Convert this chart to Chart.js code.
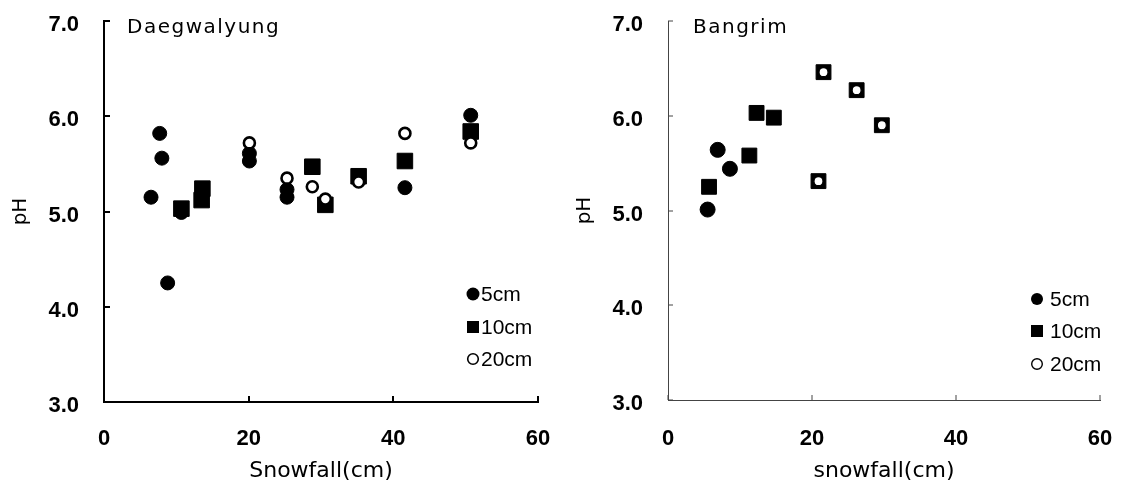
<!DOCTYPE html>
<html>
<head>
<meta charset="utf-8">
<script src="https://cdn.jsdelivr.net/npm/chart.js@4.4.1/dist/chart.umd.min.js"></script>
<style>
	body { margin: 0; background: #fff; }
	.painel { position: absolute; top: 0; height: 489px; }
	#painelDaegwalyung { left: 0; width: 560px; }
	#painelBangrim { left: 560px; width: 561px; }
</style>
</head>
<body>
<div class="painel" id="painelDaegwalyung"><canvas id="graficoDaegwalyung"></canvas></div>
<div class="painel" id="painelBangrim"><canvas id="graficoBangrim"></canvas></div>
<script>
var legendas = ['5cm', '10cm', '20cm'];
var ticksX = [0, 20, 40, 60];
var ticksY = [3, 4, 5, 6, 7];

// Daegwalyung - x = snowfall (cm), y = pH
var daeX5 = [6.5, 7.7, 8.0, 8.8, 10.7, 20.1, 20.1, 25.3, 25.3, 41.6, 50.7];
var daeY5 = [5.15, 5.82, 5.56, 4.25, 4.99, 5.53, 5.61, 5.15, 5.23, 5.25, 6.01];
var daeX10 = [10.7, 13.6, 13.5, 28.8, 30.6, 35.2, 41.6, 50.7];
var daeY10 = [5.03, 5.24, 5.12, 5.47, 5.07, 5.37, 5.53, 5.84];
var daeX20 = [20.1, 25.3, 28.8, 30.6, 35.2, 41.6, 50.7];
var daeY20 = [5.72, 5.35, 5.26, 5.13, 5.31, 5.82, 5.72];

// Bangrim
var banX5 = [5.5, 6.9, 8.6];
var banY5 = [5.01, 5.64, 5.44];
var banX10 = [5.7, 11.3, 12.3, 14.7, 20.9, 21.6, 26.2, 29.7];
var banY10 = [5.25, 5.58, 6.03, 5.98, 5.31, 6.46, 6.27, 5.90];
var banX20 = [20.9, 21.6, 26.2, 29.7];
var banY20 = [5.31, 6.46, 6.27, 5.90];

var FONTE_NUM = 'Liberation Sans, Arial, sans-serif';
var FONTE_TXT = 'DejaVu Sans, sans-serif';

function juntaPontos(xs, ys) {
	return xs.map(function(x, i) { return { x: x, y: ys[i] }; });
}

var Neve = Neve || {};

Neve.plugins = (function() {

	function desenhaMarca(ctx, estilo, cor, marca, x, y) {
		ctx.beginPath();
		if (estilo === 'rect') {
			ctx.rect(x - marca.raio, y - marca.raio, marca.raio * 2, marca.raio * 2);
		} else {
			ctx.arc(x, y, marca.raio, 0, Math.PI * 2);
		}
		ctx.fillStyle = cor;
		ctx.fill();
		if (marca.borda) {
			ctx.lineWidth = marca.borda;
			ctx.strokeStyle = '#000';
			ctx.stroke();
		}
	}

	var rotulo = {
		id: 'rotulo',
		afterDraw: function(chart, args, opts) {
			var ctx = chart.ctx, area = chart.chartArea;
			ctx.save();
			ctx.letterSpacing = opts.espaco;
			ctx.font = opts.fonte;
			ctx.fillStyle = '#000';
			ctx.textBaseline = 'alphabetic';
			ctx.fillText(opts.texto, area.left + opts.dx, area.top + opts.dy);
			ctx.restore();
		}
	};

	var legendaInterna = {
		id: 'legendaInterna',
		afterDatasetsDraw: function(chart, args, opts) {
			var ctx = chart.ctx, area = chart.chartArea;
			ctx.save();
			ctx.font = opts.fonte;
			ctx.textBaseline = 'middle';
			chart.data.datasets.forEach(function(ds, i) {
				var y = area.bottom + opts.linhasY[i];
				desenhaMarca(ctx, ds.pointStyle, ds.pointBackgroundColor, opts.marcas[i], area.right + opts.marcaX, y);
				ctx.fillStyle = '#000';
				ctx.fillText(ds.label, area.right + opts.textoX, y + 1);
			});
			ctx.restore();
		}
	};

	// tracinhos dos ticks voltados para dentro da area do grafico
	var marcasInternas = {
		id: 'marcasInternas',
		afterDraw: function(chart, args, opts) {
			var ctx = chart.ctx, area = chart.chartArea;
			var sx = chart.scales.x, sy = chart.scales.y;
			ctx.save();
			ctx.strokeStyle = opts.cor;
			ctx.lineWidth = opts.largura;
			ctx.beginPath();
			sy.ticks.forEach(function(t) {
				var py = Math.round(sy.getPixelForValue(t.value));
				ctx.moveTo(area.left, py);
				ctx.lineTo(area.left + opts.tamanho, py);
			});
			sx.ticks.forEach(function(t) {
				var px = Math.round(sx.getPixelForValue(t.value));
				ctx.moveTo(px, area.bottom);
				ctx.lineTo(px, area.bottom - opts.tamanho);
			});
			ctx.stroke();
			ctx.restore();
		}
	};

	return [rotulo, legendaInterna, marcasInternas];
}());

Neve.GraficoNeve = (function() {

	function GraficoNeve(id, cfg) {
		this.ctx = document.getElementById(id).getContext('2d');
		this.cfg = cfg;
	}

	GraficoNeve.prototype.iniciar = function() {
		var cfg = this.cfg;
		new Chart(this.ctx, {
			type: 'scatter',
			data: {
				datasets: [{
					label: legendas[0],
					data: juntaPontos(cfg.x5, cfg.y5),
					pointStyle: 'circle',
					pointRadius: cfg.raio5,
					pointBackgroundColor: '#000',
					pointBorderColor: '#000',
					pointBorderWidth: 1,
					order: 3,
					clip: false
				}, {
					label: legendas[1],
					data: juntaPontos(cfg.x10, cfg.y10),
					pointStyle: 'rect',
					pointRadius: cfg.raio10,
					pointBackgroundColor: '#000',
					pointBorderColor: '#000',
					pointBorderWidth: 1,
					order: 2,
					clip: false
				}, {
					label: legendas[2],
					data: juntaPontos(cfg.x20, cfg.y20),
					pointStyle: 'circle',
					pointRadius: cfg.raio20,
					pointBackgroundColor: '#fff',
					pointBorderColor: '#000',
					pointBorderWidth: cfg.borda20,
					order: 1,
					clip: false
				}]
			},
			options: {
				responsive: true,
				maintainAspectRatio: false,
				animation: false,
				events: [],
				layout: { padding: { top: 21, right: cfg.padDireita, bottom: 0, left: 0 } },
				scales: {
					x: {
						type: 'linear',
						min: 0,
						max: 60,
						afterBuildTicks: function(scale) {
							scale.ticks = ticksX.map(function(v) { return { value: v }; });
						},
						afterFit: function(scale) { scale.height = 489 - cfg.base; },
						grid: { display: false, drawTicks: true, tickLength: cfg.padTickX },
						border: { display: true, color: cfg.corEixo, width: cfg.larguraEixo },
						ticks: {
							padding: 0,
							color: '#000',
							font: { family: FONTE_NUM, size: 22, weight: 'bold' }
						},
						title: {
							display: true,
							text: cfg.tituloX,
							color: '#000',
							padding: { top: 0, bottom: 5 },
							font: { family: FONTE_TXT, size: 22 }
						}
					},
					y: {
						type: 'linear',
						min: 3,
						max: 7,
						afterBuildTicks: function(scale) {
							scale.ticks = ticksY.map(function(v) { return { value: v }; });
						},
						afterFit: function(scale) { scale.width = cfg.esquerda; },
						grid: { display: false, drawTicks: true, tickLength: 25 },
						border: { display: true, color: cfg.corEixo, width: cfg.larguraEixo },
						ticks: {
							padding: 0,
							labelOffset: 4,
							color: '#000',
							font: { family: FONTE_NUM, size: 22, weight: 'bold' },
							callback: function(v) { return Number(v).toFixed(1); }
						},
						title: {
							display: true,
							text: 'pH',
							color: '#000',
							padding: { top: cfg.padTituloY, bottom: 0 },
							font: { family: FONTE_TXT, size: 20 }
						}
					}
				},
				plugins: {
					legend: { display: false },
					tooltip: { enabled: false },
					rotulo: {
						texto: cfg.local,
						dx: cfg.rotuloDx,
						dy: 12,
						espaco: '1.5px',
						fonte: '20px ' + FONTE_TXT
					},
					legendaInterna: {
						fonte: '21px ' + FONTE_NUM,
						marcaX: cfg.legMarcaX,
						textoX: cfg.legTextoX,
						linhasY: cfg.legLinhasY,
						marcas: cfg.legMarcas
					},
					marcasInternas: {
						cor: cfg.corEixo,
						largura: cfg.larguraEixo,
						tamanho: cfg.tamTick
					}
				}
			},
			plugins: Neve.plugins
		});
	};

	return GraficoNeve;

}());

(function() {
	var graficoDaegwalyung = new Neve.GraficoNeve('graficoDaegwalyung', {
		local: 'Daegwalyung', tituloX: 'Snowfall(cm)',
		x5: daeX5, y5: daeY5, x10: daeX10, y10: daeY10, x20: daeX20, y20: daeY20,
		raio5: 7, raio10: 11, raio20: 5.5, borda20: 2.6,
		esquerda: 104, padDireita: 22, base: 402, padTickX: 24, padTituloY: 9,
		corEixo: '#000', larguraEixo: 2, tamTick: 6,
		rotuloDx: 23,
		legMarcaX: -65, legTextoX: -57, legLinhasY: [-108, -75, -43],
		legMarcas: [{ raio: 6.5 }, { raio: 6 }, { raio: 5.3, borda: 1.6 }]
	});
	graficoDaegwalyung.iniciar();

	var graficoBangrim = new Neve.GraficoNeve('graficoBangrim', {
		local: 'Bangrim', tituloX: 'snowfall(cm)',
		x5: banX5, y5: banY5, x10: banX10, y10: banY10, x20: banX20, y20: banY20,
		raio5: 7.5, raio10: 10.5, raio20: 4.5, borda20: 1.2,
		esquerda: 108, padDireita: 21, base: 400, padTickX: 26, padTituloY: 13,
		corEixo: '#444', larguraEixo: 1, tamTick: 5,
		rotuloDx: 25,
		legMarcaX: -63, legTextoX: -50, legLinhasY: [-101, -69, -36],
		legMarcas: [{ raio: 6 }, { raio: 6 }, { raio: 5.3, borda: 1.4 }]
	});
	graficoBangrim.iniciar();
}());
</script>
</body>
</html>
